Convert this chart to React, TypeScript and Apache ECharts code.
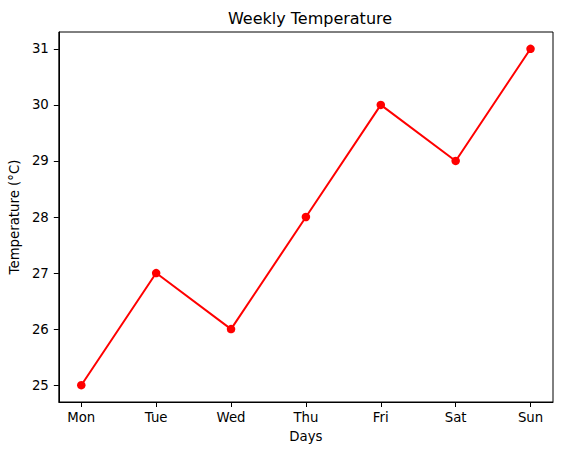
import React, { useEffect, useRef } from "react";
import * as echarts from "echarts";

const days = ["Mon", "Tue", "Wed", "Thu", "Fri", "Sat", "Sun"];
const temps = [25, 27, 26, 28, 30, 29, 31];
const yTicks = [25, 26, 27, 28, 29, 30, 31];

const FONT = "DejaVu Sans";

export default function App() {
  const ref = useRef<HTMLDivElement>(null);
  useEffect(() => {
    if (!ref.current) return;
    const chart = echarts.init(ref.current, null, { renderer: "svg" });
    const xIdx = days.map((_, i) => i);
    chart.setOption({
      animation: false,
      backgroundColor: "#ffffff",
      title: {
        text: "Weekly Temperature",
        left: 305,
        textAlign: "center",
        top: 5,
        textStyle: { fontFamily: FONT, fontSize: 16, fontWeight: "normal", color: "#000" },
      },
      grid: {
        left: 57,
        top: 32,
        width: 496,
        height: 370,
        show: true,
        borderColor: "#000",
        borderWidth: 1,
        backgroundColor: "transparent",
      },
      xAxis: {
        type: "value",
        min: -0.3,
        max: 6.3,
        name: "Days",
        nameLocation: "middle",
        nameGap: 28,
        nameTextStyle: { fontFamily: FONT, fontSize: 13.3, color: "#000" },
        axisLine: { show: true, onZero: false, lineStyle: { color: "#000", width: 1 } },
        axisTick: { show: true, customValues: xIdx, length: 5, lineStyle: { color: "#000", width: 1 } },
        axisLabel: {
          customValues: xIdx,
          margin: 9,
          fontFamily: FONT,
          fontSize: 13.3,
          color: "#000",
          formatter: (v: number) => days[Math.round(v)] ?? "",
        },
        splitLine: { show: false },
      },
      yAxis: {
        type: "value",
        min: 24.7,
        max: 31.3,
        name: "Temperature (°C)",
        nameLocation: "middle",
        nameRotate: 90,
        nameGap: 36,
        nameTextStyle: { fontFamily: FONT, fontSize: 13.3, color: "#000" },
        axisLine: { show: true, onZero: false, lineStyle: { color: "#000", width: 1 } },
        axisTick: { show: true, customValues: yTicks, length: 5, lineStyle: { color: "#000", width: 1 } },
        axisLabel: {
          customValues: yTicks,
          margin: 10,
          fontFamily: FONT,
          fontSize: 13.3,
          color: "#000",
        },
        splitLine: { show: false },
      },
      series: [
        {
          type: "line",
          data: temps.map((t, i) => [i, t]),
          symbol: "circle",
          symbolSize: 8.5,
          showAllSymbol: true,
          lineStyle: { color: "#ff0000", width: 2 },
          itemStyle: { color: "#ff0000" },
        },
      ],
    });
    return () => chart.dispose();
  }, []);
  return (
    <div
      ref={ref}
      style={{ position: "fixed", left: 0, top: 0, width: 562, height: 455, background: "#fff" }}
    />
  );
}
